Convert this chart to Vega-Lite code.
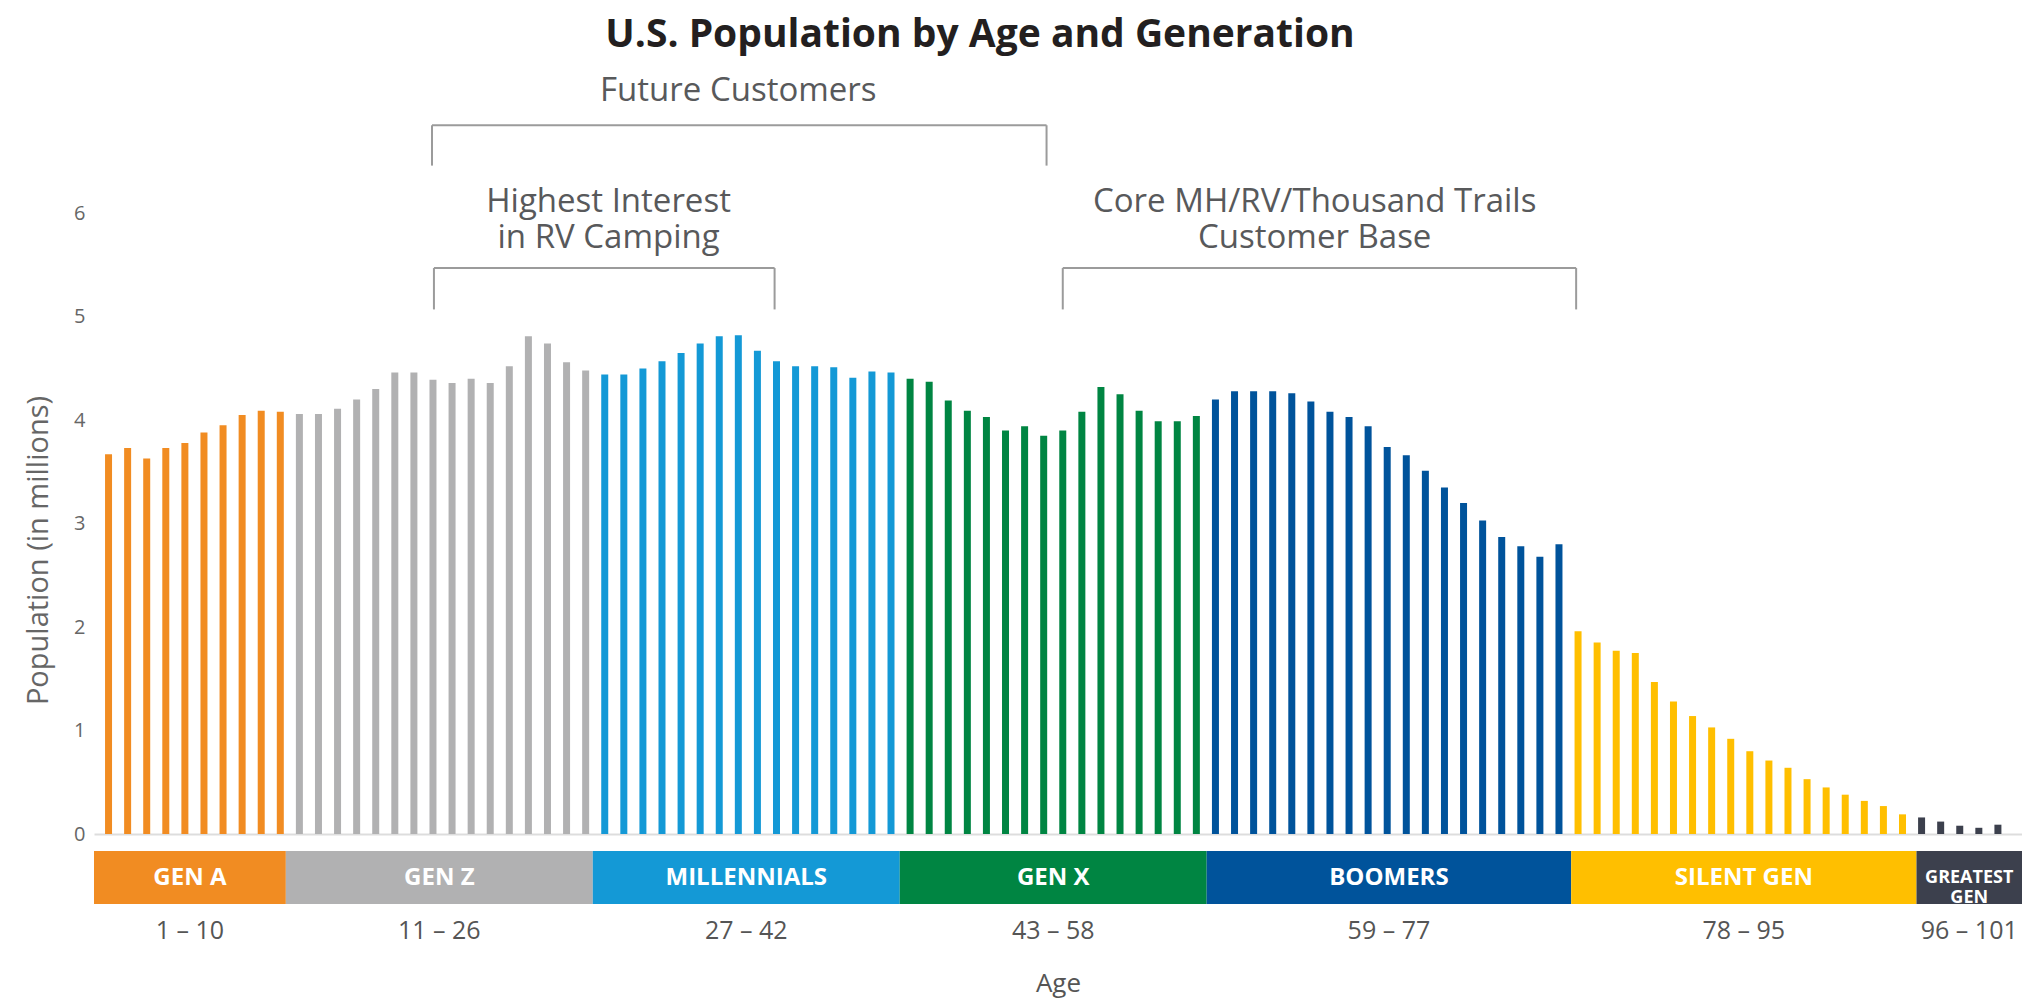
{
  "$schema": "https://vega.github.io/schema/vega-lite/v6.json",
  "background": "white",
  "padding": {"left": 24, "top": 16, "right": 0, "bottom": 12},
  "config": {"view": {"stroke": null}, "font": "Open Sans"},
  "spacing": 7,
  "datasets": {
    "pop": [
      {"age": 1, "pop": 3.67, "gen": "GEN A"}, {"age": 2, "pop": 3.73, "gen": "GEN A"}, {"age": 3, "pop": 3.63, "gen": "GEN A"},
      {"age": 4, "pop": 3.73, "gen": "GEN A"}, {"age": 5, "pop": 3.78, "gen": "GEN A"}, {"age": 6, "pop": 3.88, "gen": "GEN A"},
      {"age": 7, "pop": 3.95, "gen": "GEN A"}, {"age": 8, "pop": 4.05, "gen": "GEN A"}, {"age": 9, "pop": 4.09, "gen": "GEN A"},
      {"age": 10, "pop": 4.08, "gen": "GEN A"},
      {"age": 11, "pop": 4.06, "gen": "GEN Z"}, {"age": 12, "pop": 4.06, "gen": "GEN Z"}, {"age": 13, "pop": 4.11, "gen": "GEN Z"},
      {"age": 14, "pop": 4.2, "gen": "GEN Z"}, {"age": 15, "pop": 4.3, "gen": "GEN Z"}, {"age": 16, "pop": 4.46, "gen": "GEN Z"},
      {"age": 17, "pop": 4.46, "gen": "GEN Z"}, {"age": 18, "pop": 4.39, "gen": "GEN Z"}, {"age": 19, "pop": 4.36, "gen": "GEN Z"},
      {"age": 20, "pop": 4.4, "gen": "GEN Z"}, {"age": 21, "pop": 4.36, "gen": "GEN Z"}, {"age": 22, "pop": 4.52, "gen": "GEN Z"},
      {"age": 23, "pop": 4.81, "gen": "GEN Z"}, {"age": 24, "pop": 4.74, "gen": "GEN Z"}, {"age": 25, "pop": 4.56, "gen": "GEN Z"},
      {"age": 26, "pop": 4.48, "gen": "GEN Z"},
      {"age": 27, "pop": 4.44, "gen": "MILLENNIALS"}, {"age": 28, "pop": 4.44, "gen": "MILLENNIALS"}, {"age": 29, "pop": 4.5, "gen": "MILLENNIALS"},
      {"age": 30, "pop": 4.57, "gen": "MILLENNIALS"}, {"age": 31, "pop": 4.65, "gen": "MILLENNIALS"}, {"age": 32, "pop": 4.74, "gen": "MILLENNIALS"},
      {"age": 33, "pop": 4.81, "gen": "MILLENNIALS"}, {"age": 34, "pop": 4.82, "gen": "MILLENNIALS"}, {"age": 35, "pop": 4.67, "gen": "MILLENNIALS"},
      {"age": 36, "pop": 4.57, "gen": "MILLENNIALS"}, {"age": 37, "pop": 4.52, "gen": "MILLENNIALS"}, {"age": 38, "pop": 4.52, "gen": "MILLENNIALS"},
      {"age": 39, "pop": 4.51, "gen": "MILLENNIALS"}, {"age": 40, "pop": 4.41, "gen": "MILLENNIALS"}, {"age": 41, "pop": 4.47, "gen": "MILLENNIALS"},
      {"age": 42, "pop": 4.46, "gen": "MILLENNIALS"},
      {"age": 43, "pop": 4.4, "gen": "GEN X"}, {"age": 44, "pop": 4.37, "gen": "GEN X"}, {"age": 45, "pop": 4.19, "gen": "GEN X"},
      {"age": 46, "pop": 4.09, "gen": "GEN X"}, {"age": 47, "pop": 4.03, "gen": "GEN X"}, {"age": 48, "pop": 3.9, "gen": "GEN X"},
      {"age": 49, "pop": 3.94, "gen": "GEN X"}, {"age": 50, "pop": 3.85, "gen": "GEN X"}, {"age": 51, "pop": 3.9, "gen": "GEN X"},
      {"age": 52, "pop": 4.08, "gen": "GEN X"}, {"age": 53, "pop": 4.32, "gen": "GEN X"}, {"age": 54, "pop": 4.25, "gen": "GEN X"},
      {"age": 55, "pop": 4.09, "gen": "GEN X"}, {"age": 56, "pop": 3.99, "gen": "GEN X"}, {"age": 57, "pop": 3.99, "gen": "GEN X"},
      {"age": 58, "pop": 4.04, "gen": "GEN X"},
      {"age": 59, "pop": 4.2, "gen": "BOOMERS"}, {"age": 60, "pop": 4.28, "gen": "BOOMERS"}, {"age": 61, "pop": 4.28, "gen": "BOOMERS"},
      {"age": 62, "pop": 4.28, "gen": "BOOMERS"}, {"age": 63, "pop": 4.26, "gen": "BOOMERS"}, {"age": 64, "pop": 4.18, "gen": "BOOMERS"},
      {"age": 65, "pop": 4.08, "gen": "BOOMERS"}, {"age": 66, "pop": 4.03, "gen": "BOOMERS"}, {"age": 67, "pop": 3.94, "gen": "BOOMERS"},
      {"age": 68, "pop": 3.74, "gen": "BOOMERS"}, {"age": 69, "pop": 3.66, "gen": "BOOMERS"}, {"age": 70, "pop": 3.51, "gen": "BOOMERS"},
      {"age": 71, "pop": 3.35, "gen": "BOOMERS"}, {"age": 72, "pop": 3.2, "gen": "BOOMERS"}, {"age": 73, "pop": 3.03, "gen": "BOOMERS"},
      {"age": 74, "pop": 2.87, "gen": "BOOMERS"}, {"age": 75, "pop": 2.78, "gen": "BOOMERS"}, {"age": 76, "pop": 2.68, "gen": "BOOMERS"},
      {"age": 77, "pop": 2.8, "gen": "BOOMERS"},
      {"age": 78, "pop": 1.96, "gen": "SILENT GEN"}, {"age": 79, "pop": 1.85, "gen": "SILENT GEN"}, {"age": 80, "pop": 1.77, "gen": "SILENT GEN"},
      {"age": 81, "pop": 1.75, "gen": "SILENT GEN"}, {"age": 82, "pop": 1.47, "gen": "SILENT GEN"}, {"age": 83, "pop": 1.28, "gen": "SILENT GEN"},
      {"age": 84, "pop": 1.14, "gen": "SILENT GEN"}, {"age": 85, "pop": 1.03, "gen": "SILENT GEN"}, {"age": 86, "pop": 0.92, "gen": "SILENT GEN"},
      {"age": 87, "pop": 0.8, "gen": "SILENT GEN"}, {"age": 88, "pop": 0.71, "gen": "SILENT GEN"}, {"age": 89, "pop": 0.64, "gen": "SILENT GEN"},
      {"age": 90, "pop": 0.53, "gen": "SILENT GEN"}, {"age": 91, "pop": 0.45, "gen": "SILENT GEN"}, {"age": 92, "pop": 0.38, "gen": "SILENT GEN"},
      {"age": 93, "pop": 0.32, "gen": "SILENT GEN"}, {"age": 94, "pop": 0.27, "gen": "SILENT GEN"}, {"age": 95, "pop": 0.19, "gen": "SILENT GEN"},
      {"age": 96, "pop": 0.16, "gen": "GREATEST GEN"}, {"age": 97, "pop": 0.12, "gen": "GREATEST GEN"}, {"age": 98, "pop": 0.08, "gen": "GREATEST GEN"},
      {"age": 99, "pop": 0.06, "gen": "GREATEST GEN"}, {"age": 100, "pop": 0.09, "gen": "GREATEST GEN"}
    ],
    "gens": [
      {"gen": "GEN A", "label": "GEN A", "range": "1 – 10", "lo": 0.5, "hi": 10.5},
      {"gen": "GEN Z", "label": "GEN Z", "range": "11 – 26", "lo": 10.5, "hi": 26.5},
      {"gen": "MILLENNIALS", "label": "MILLENNIALS", "range": "27 – 42", "lo": 26.5, "hi": 42.5},
      {"gen": "GEN X", "label": "GEN X", "range": "43 – 58", "lo": 42.5, "hi": 58.5},
      {"gen": "BOOMERS", "label": "BOOMERS", "range": "59 – 77", "lo": 58.5, "hi": 77.5},
      {"gen": "SILENT GEN", "label": "SILENT GEN", "range": "78 – 95", "lo": 77.5, "hi": 95.5},
      {"gen": "GREATEST GEN", "label": "GREATEST\nGEN", "range": "96 – 101", "lo": 95.5, "hi": 101}
    ],
    "brackets": [
      {"name": "Future Customers", "from": 17.95, "to": 50.15, "top": 6.85, "bottom": 6.46},
      {"name": "Highest Interest", "from": 18.05, "to": 35.9, "top": 5.47, "bottom": 5.07},
      {"name": "Core", "from": 51, "to": 77.9, "top": 5.47, "bottom": 5.07}
    ],
    "notes": [
      {"text": "Future Customers", "age": 34, "y": 7.08},
      {"text": "Highest Interest\nin RV Camping", "age": 27.2, "y": 6.01},
      {"text": "Core MH/RV/Thousand Trails\nCustomer Base", "age": 64.2, "y": 6.01}
    ]
  },
  "vconcat": [
    {
      "width": 1928,
      "height": 776,
      "title": {"text": "U.S. Population by Age and Generation", "font": "Open Sans", "fontSize": 39, "fontWeight": "bold", "color": "#231f20", "anchor": "middle", "offset": 3, "dx": -78},
      "layer": [
        {
          "data": {"name": "pop"},
          "mark": {"type": "bar", "width": 7},
          "encoding": {
            "x": {"field": "age", "type": "quantitative", "scale": {"domain": [0.5, 101], "nice": false, "zero": false},
                  "axis": {"title": null, "labels": false, "ticks": false, "grid": false, "domainColor": "#dddddd", "domainWidth": 2}},
            "y": {"field": "pop", "type": "quantitative", "scale": {"domain": [0, 7.5], "nice": false},
                  "axis": {"values": [0, 1, 2, 3, 4, 5, 6], "format": "d", "title": "Population (in millions)", "grid": false, "domain": false, "ticks": false,
                           "labelPadding": 9, "labelFontSize": 20, "labelColor": "#666666", "labelFont": "Open Sans",
                           "titleFontSize": 29, "titleFontWeight": "normal", "titleColor": "#666666", "titleFont": "Open Sans", "titlePadding": 20, "titleY": 492}},
            "color": {"field": "gen", "type": "nominal",
                      "scale": {"domain": ["GEN A", "GEN Z", "MILLENNIALS", "GEN X", "BOOMERS", "SILENT GEN", "GREATEST GEN"],
                                "range": ["#F18C22", "#B1B1B2", "#1499D6", "#008542", "#00539B", "#FFBF00", "#3C404D"]},
                      "legend": null}
          }
        },
        {
          "data": {"name": "brackets"},
          "mark": {"type": "rule", "color": "#9B9B9B", "strokeWidth": 2},
          "encoding": {"x": {"field": "from", "type": "quantitative"}, "x2": {"field": "to"}, "y": {"field": "top", "type": "quantitative"}}
        },
        {
          "data": {"name": "brackets"},
          "mark": {"type": "rule", "color": "#9B9B9B", "strokeWidth": 2},
          "encoding": {"x": {"field": "from", "type": "quantitative"}, "y": {"field": "bottom", "type": "quantitative"}, "y2": {"field": "top"}}
        },
        {
          "data": {"name": "brackets"},
          "mark": {"type": "rule", "color": "#9B9B9B", "strokeWidth": 2},
          "encoding": {"x": {"field": "to", "type": "quantitative"}, "y": {"field": "bottom", "type": "quantitative"}, "y2": {"field": "top"}}
        },
        {
          "data": {"name": "notes"},
          "mark": {"type": "text", "font": "Open Sans", "fontSize": 33, "color": "#58595B", "align": "center", "baseline": "alphabetic", "lineBreak": "\n", "lineHeight": 36},
          "encoding": {"x": {"field": "age", "type": "quantitative"}, "y": {"field": "y", "type": "quantitative"}, "text": {"field": "text"}}
        }
      ]
    },
    {
      "width": 1928,
      "height": 106,
      "data": {"name": "gens"},
      "transform": [{"calculate": "(datum.lo + datum.hi) / 2", "as": "mid"}],
      "layer": [
        {
          "mark": {"type": "rect"},
          "encoding": {
            "x": {"field": "lo", "type": "quantitative", "scale": {"domain": [0.5, 101], "nice": false, "zero": false},
                  "axis": {"title": "Age", "labels": false, "ticks": false, "grid": false, "domain": false,
                           "titleFontSize": 26, "titleFontWeight": "normal", "titleColor": "#555555", "titleFont": "Open Sans", "titlePadding": 13}},
            "x2": {"field": "hi"},
            "y": {"datum": "band", "type": "nominal", "scale": {"domain": ["band", "range"], "paddingInner": 0, "paddingOuter": 0}, "axis": null},
            "color": {"field": "gen", "type": "nominal",
                      "scale": {"domain": ["GEN A", "GEN Z", "MILLENNIALS", "GEN X", "BOOMERS", "SILENT GEN", "GREATEST GEN"],
                                "range": ["#F18C22", "#B1B1B2", "#1499D6", "#008542", "#00539B", "#FFBF00", "#3C404D"]},
                      "legend": null}
          }
        },
        {
          "transform": [{"filter": "datum.gen != 'GREATEST GEN'"}],
          "mark": {"type": "text", "font": "Open Sans", "fontSize": 24, "fontWeight": "bold", "color": "white", "baseline": "middle", "align": "center"},
          "encoding": {"x": {"field": "mid", "type": "quantitative"}, "y": {"datum": "band", "type": "nominal"}, "text": {"field": "label"}}
        },
        {
          "transform": [{"filter": "datum.gen == 'GREATEST GEN'"}],
          "mark": {"type": "text", "font": "Open Sans", "fontSize": 18, "fontWeight": "bold", "color": "white", "baseline": "middle", "align": "center", "lineBreak": "\n", "lineHeight": 20},
          "encoding": {"x": {"field": "mid", "type": "quantitative"}, "y": {"datum": "band", "type": "nominal"}, "text": {"field": "label"}}
        },
        {
          "mark": {"type": "text", "font": "Open Sans", "fontSize": 25, "color": "#555555", "baseline": "middle", "align": "center"},
          "encoding": {"x": {"field": "mid", "type": "quantitative"}, "y": {"datum": "range", "type": "nominal"}, "text": {"field": "range"}}
        }
      ]
    }
  ]
}
